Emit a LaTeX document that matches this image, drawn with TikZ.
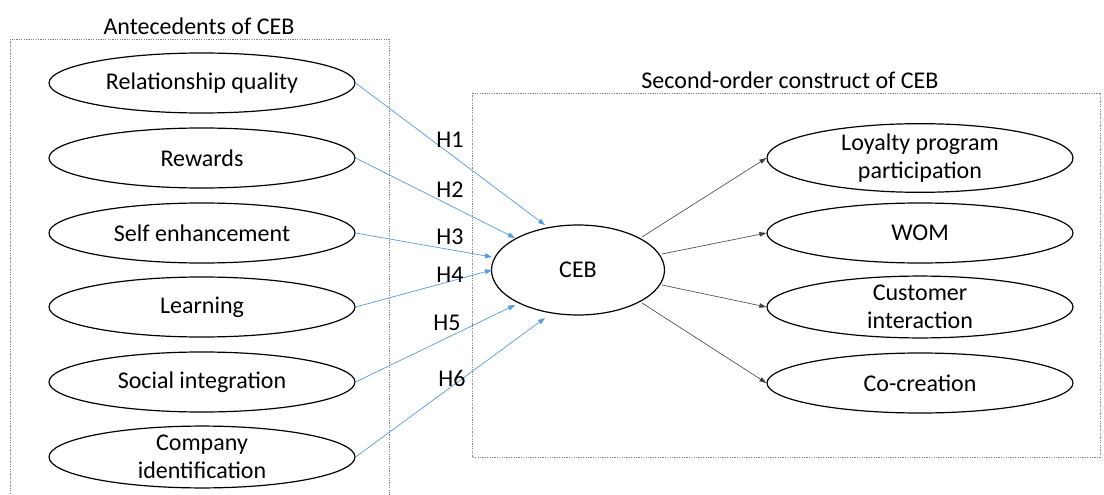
\documentclass[tikz,border=0pt]{standalone}
\usepackage{fontspec}
\setmainfont{Carlito}
\usetikzlibrary{shapes.geometric,arrows.meta}
\definecolor{hblue}{RGB}{91,155,213}
\tikzset{
  construct/.style={ellipse,draw=black,line width=1.2pt,minimum width=306pt,minimum height=60pt,inner sep=0pt,align=center,font=\fontsize{24}{28}\selectfont},
  groupbox/.style={draw=gray,line width=0.8pt,dash pattern=on 1.2pt off 1.2pt},
  hyp/.style={draw=hblue,line width=0.7pt,-{Triangle[length=7pt,width=5pt]}},
  dim/.style={draw=black!75,line width=0.6pt,-{Triangle[length=7pt,width=4.5pt]}},
  lbl/.style={font=\fontsize{24}{28}\selectfont,inner sep=0pt}
}
\begin{document}
\begin{tikzpicture}[x=1pt,y=-1pt]
\useasboundingbox (0,0) rectangle (1104,495);
\clip (0,0) rectangle (1104,495);
\fill[white] (0,0) rectangle (1104,495);
% group boxes
\draw[groupbox] (10,39) rectangle (389,505);
\draw[groupbox] (472,93) rectangle (1100,457);
\node[lbl] (t1) at (199,26) {Antecedents of CEB};
\node[lbl] (t2) at (790,80) {Second-order construct of CEB};
% antecedents
\node[construct] (rq) at (202,83) {Relationship quality};
\node[construct] (rw) at (202,158) {Rewards};
\node[construct] (se) at (202,233) {Self enhancement};
\node[construct] (le) at (202,307) {Learning};
\node[construct] (si) at (202,382) {Social integration};
\node[construct] (ci) at (202,457) {Company\\identification};
% CEB
\node[construct,minimum width=173pt,minimum height=90pt] (ceb) at (578,270) {CEB};
% dimensions
\node[construct] (lp) at (920,158) {Loyalty program\\participation};
\node[construct] (wom) at (920,233) {WOM};
\node[construct] (cu) at (920,307) {Customer\\interaction};
\node[construct] (co) at (920,383) {Co-creation};
% targets on CEB
\coordinate (e1) at (545,225);
\coordinate (e2) at (515,238);
\coordinate (e3) at (492,257);
\coordinate (e4) at (492,270);
\coordinate (e5) at (515,305);
\coordinate (e6) at (545,318);
\draw[hyp] (rq.east) -- (e1);
\draw[hyp] (rw.east) -- (e2);
\draw[hyp] (se.east) -- (e3);
\draw[hyp] (le.east) -- (e4);
\draw[hyp] (si.east) -- (e5);
\draw[hyp] (ci.east) -- (e6);
\node[lbl] (h1) at (450,140) {H1};
\node[lbl] (h2) at (450,190) {H2};
\node[lbl] (h3) at (450,237) {H3};
\node[lbl] (h4) at (450,275) {H4};
\node[lbl] (h5) at (447,323) {H5};
\node[lbl] (h6) at (452,378) {H6};
% outgoing
\coordinate (s1) at (642,237);
\coordinate (s2) at (662,254);
\coordinate (s3) at (662,285);
\coordinate (s4) at (642,303);
\draw[dim] (s1) -- (lp.west);
\draw[dim] (s2) -- (wom.west);
\draw[dim] (s3) -- (cu.west);
\draw[dim] (s4) -- (co.west);
\end{tikzpicture}
\end{document}
